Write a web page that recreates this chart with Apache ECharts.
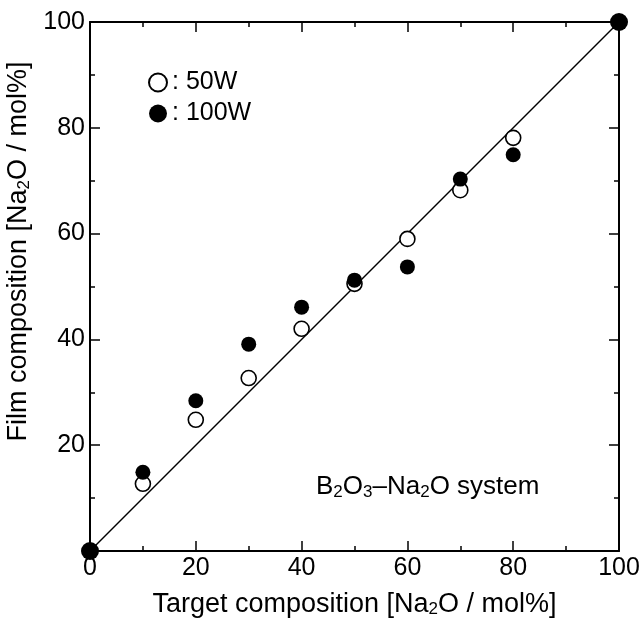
<!DOCTYPE html>
<html><head><meta charset="utf-8">
<script src="https://cdn.jsdelivr.net/npm/echarts@6/dist/echarts.min.js"></script>
<style>html,body{margin:0;padding:0;background:#fff}#c{width:642px;height:619px}</style>
</head><body><div id="c"></div>
<script>
var target50 = [10, 20, 30, 40, 50, 60, 70, 80];
var film50 = [12.7, 24.8, 32.7, 42.0, 50.5, 59.0, 68.2, 78.1];
var target100 = [0, 10, 20, 30, 40, 50, 60, 70, 80, 100];
var film100 = [0, 14.9, 28.4, 39.1, 46.1, 51.2, 53.7, 70.3, 74.9, 100];
var idealLine = [[0, 0], [100, 100]];
var xTicks = [0, 20, 40, 60, 80, 100];
var yTicks = [20, 40, 60, 80, 100];

var FONT = 'Liberation Sans';
var chart = echarts.init(document.getElementById('c'));
function pairs(xs, ys){ return xs.map(function(x,i){ return [x, ys[i]]; }); }
function axisCommon(){
  return {
    min: 0, max: 100, interval: 20,
    axisLine: {show: true, onZero: false, lineStyle: {color: '#000', width: 2}},
    axisTick: {show: true, inside: true, length: 10, lineStyle: {color: '#000', width: 1.5}},
    minorTick: {show: true, splitNumber: 2, length: 5, lineStyle: {color: '#000', width: 1.5}},
    splitLine: {show: false}
  };
}
var subRich = {sub: {fontFamily: FONT, fontSize: 17, verticalAlign: 'bottom', padding: [10,0,0,0]}};
chart.setOption({
  animation: false,
  backgroundColor: '#fff',
  textStyle: {fontFamily: FONT, color: '#000'},
  grid: {left: 90, right: 23, top: 22, bottom: 68, containLabel: false, outerBoundsMode: 'none'},
  legend: {
    left: 148, top: 70, orient: 'vertical', itemGap: 6, padding: 0,
    itemWidth: 18, itemHeight: 18, icon: 'circle',
    textStyle: {fontFamily: FONT, fontSize: 25, color: '#000'},
    formatter: function(n){ return ': ' + n; },
    data: ['50W', '100W']
  },
  xAxis: [
    Object.assign(axisCommon(), {
      type: 'value', position: 'bottom',
      name: 'Target composition [Na{sub|2}O / mol%]', nameLocation: 'middle', nameGap: 40,
      nameTextStyle: {fontFamily: FONT, fontSize: 27, color: '#000', rich: subRich},
      axisLabel: {fontFamily: FONT, fontSize: 25, color: '#000', margin: 5,
        formatter: function(v){ return xTicks.indexOf(v) >= 0 ? String(v) : ''; }}
    }),
    Object.assign(axisCommon(), {
      type: 'value', position: 'top', axisLabel: {show: false}
    })
  ],
  yAxis: [
    Object.assign(axisCommon(), {
      type: 'value', position: 'left',
      name: 'Film composition [Na{sub|2}O / mol%]', nameLocation: 'middle', nameGap: 34,
      nameTextStyle: {fontFamily: FONT, fontSize: 27, color: '#000', rich: subRich, padding: [0, 0, 0, 70]},
      axisLabel: {fontFamily: FONT, fontSize: 25, color: '#000', margin: 5,
        formatter: function(v){ return yTicks.indexOf(v) >= 0 ? String(v) : ''; }}
    }),
    Object.assign(axisCommon(), {
      type: 'value', position: 'right', axisLabel: {show: false}
    })
  ],
  graphic: [{
    type: 'text', left: 316, top: 474, z: 10,
    style: {
      text: 'B{s|2}O{s|3}\u2013Na{s|2}O system',
      fontFamily: FONT, fontSize: 26, fill: '#000',
      rich: {s: {fontFamily: FONT, fontSize: 17, verticalAlign: 'bottom', padding: [10,0,0,0]}}
    }
  }],
  series: [
    {type: 'line', data: idealLine, showSymbol: false, symbol: 'none',
     lineStyle: {color: '#000', width: 1.5}, silent: true, z: 1},
    {name: '50W', type: 'scatter', data: pairs(target50, film50), symbol: 'circle', symbolSize: 15,
     itemStyle: {color: '#fff', borderColor: '#000', borderWidth: 1.6, opacity: 1}, z: 3},
    {name: '100W', type: 'scatter', data: pairs(target100, film100), symbol: 'circle',
     symbolSize: function(v){ return (v[0] === 0 || v[0] === 100) ? 18 : 15; },
     itemStyle: {color: '#000', borderColor: '#000', borderWidth: 0, opacity: 1}, z: 4, clip: false}
  ]
});
</script></body></html>
